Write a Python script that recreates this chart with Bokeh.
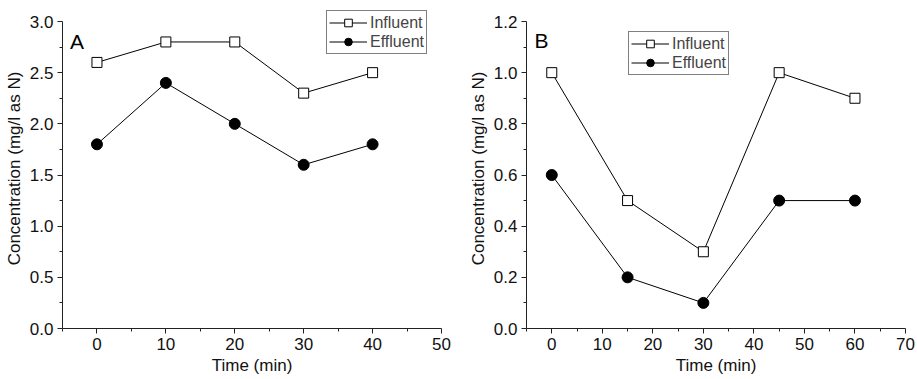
from bokeh.plotting import figure
from bokeh.layouts import row
from bokeh.models import (Legend, LegendItem, Label, FixedTicker, Range1d,
                          NumeralTickFormatter)
from bokeh.embed import file_html
from bokeh.resources import INLINE

# Panel A data
time_a = [0, 10, 20, 30, 40]
influent_a = [2.6, 2.8, 2.8, 2.3, 2.5]
effluent_a = [1.8, 2.4, 2.0, 1.6, 1.8]
xticks_a = [0, 10, 20, 30, 40, 50]
yticks_a = [0.0, 0.5, 1.0, 1.5, 2.0, 2.5, 3.0]

# Panel B data
time_b = [0, 15, 30, 45, 60]
influent_b = [1.0, 0.5, 0.3, 1.0, 0.9]
effluent_b = [0.6, 0.2, 0.1, 0.5, 0.5]
xticks_b = [0, 10, 20, 30, 40, 50, 60, 70]
yticks_b = [0.0, 0.2, 0.4, 0.6, 0.8, 1.0, 1.2]

FONT = "Liberation Sans"
TOP = 8          # frame top (px); axis top value sits 13 px lower
EXTRA = 13 / 307  # fraction of axis span added above the top tick


def minors(ticks):
    step = ticks[1] - ticks[0]
    out = [ticks[0] - step / 2]
    for a, b in zip(ticks[:-1], ticks[1:]):
        out.append((a + b) / 2)
    return out


def make_panel(width, left, right, xr, xticks, yticks,
               t, inf, eff, letter, letter_xy, legend_loc):
    ytop = yticks[-1]
    p = figure(width=width, height=379, x_range=Range1d(*xr),
               y_range=Range1d(0, ytop * (1 + EXTRA)),
               output_backend="svg", toolbar_location=None,
               min_border_left=left, min_border_right=right,
               min_border_top=TOP, min_border_bottom=51)
    p.outline_line_color = None
    p.xgrid.visible = False
    p.ygrid.visible = False
    p.background_fill_color = "white"
    p.border_fill_color = "white"

    p.xaxis.ticker = FixedTicker(ticks=xticks, minor_ticks=minors(xticks))
    p.yaxis.ticker = FixedTicker(ticks=yticks, minor_ticks=minors(yticks)[1:])
    p.yaxis.bounds = (yticks[0], ytop)
    p.yaxis.formatter = NumeralTickFormatter(format="0.0")
    p.xaxis.axis_label = "Time (min)"
    p.yaxis.axis_label = "Concentration (mg/l as N)"
    for ax in (p.xaxis[0], p.yaxis[0]):
        ax.axis_line_color = "#222222"
        ax.major_tick_line_color = "#222222"
        ax.minor_tick_line_color = "#222222"
        ax.major_tick_out = 5
        ax.major_tick_in = 0
        ax.minor_tick_out = 3
        ax.minor_tick_in = 0
        ax.major_label_text_font = FONT
        ax.major_label_text_font_size = "17px"
        ax.major_label_text_color = "#111111"
        ax.axis_label_text_font = FONT
        ax.axis_label_text_font_size = "17px"
        ax.axis_label_text_font_style = "normal"
        ax.axis_label_text_color = "#111111"
    p.xaxis.major_label_standoff = 4
    p.xaxis.axis_label_standoff = 3
    p.yaxis.major_label_standoff = 4
    p.yaxis.axis_label_standoff = 3

    l1 = p.line(t, inf, line_color="black", line_width=1)
    m1 = p.scatter(t, inf, marker="square", size=10, fill_color="white",
                   line_color="black", line_width=1)
    l2 = p.line(t, eff, line_color="black", line_width=1)
    m2 = p.scatter(t, eff, marker="circle", size=11, fill_color="black",
                   line_color="black")

    lab = Label(x=letter_xy[0], y=letter_xy[1], text=letter, text_font=FONT,
                text_font_size="21px", text_baseline="middle", text_color="black")
    p.add_layout(lab)

    legend = Legend(items=[LegendItem(label="Influent", renderers=[l1, m1]),
                           LegendItem(label="Effluent", renderers=[l2, m2])],
                    location=legend_loc)
    legend.border_line_color = "black"
    legend.border_line_width = 1
    legend.background_fill_alpha = 1
    legend.padding = 2
    legend.spacing = 0
    legend.margin = 0
    legend.glyph_width = 38
    legend.glyph_height = 19
    legend.label_height = 19
    legend.label_standoff = 3
    legend.label_text_font = FONT
    legend.label_text_font_size = "16px"
    legend.label_text_baseline = "middle"
    p.add_layout(legend, "center")
    return p


pA = make_panel(458, 62, 17, (-5, 50), xticks_a, yticks_a,
                time_a, influent_a, effluent_a,
                "A", (-3.9, 2.8), (264, 274))
pB = make_panel(459, 68, 12, (-5, 70), xticks_b, yticks_b,
                time_b, influent_b, effluent_b,
                "B", (-3.4, 1.125), (102, 253))

layout = row(pA, pB)
open("out.html", "w").write(file_html(layout, INLINE))
